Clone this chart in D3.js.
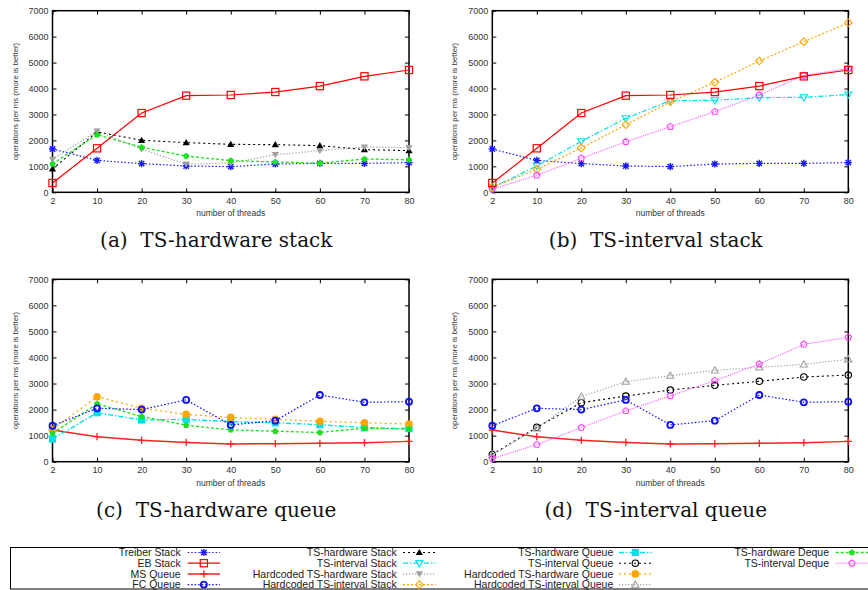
<!DOCTYPE html>
<html><head><meta charset="utf-8">
<script src="https://cdn.jsdelivr.net/npm/d3@7"></script>
<style>
html,body{margin:0;padding:0;background:#fff;}
svg{display:block;}
text{font-family:"Liberation Sans",Arial,sans-serif;}
text.caption{font-family:"DejaVu Serif","Liberation Serif",serif;}
</style></head>
<body><svg id="chart" width="868" height="590"></svg>
<script>
// ---------------- data ----------------
const threads = ["2","10","20","30","40","50","60","70","80"];
const yTickValues = [0,1000,2000,3000,4000,5000,6000,7000];
const yLabel = "operations per ms (more is better)";
const xLabel = "number of threads";

const treiberStack       = [1670,1230,1105,1015,990,1090,1115,1115,1145];
const ebStack            = [360,1695,3055,3725,3750,3865,4095,4470,4715];
const tsHardwareStack    = [900,2330,2005,1915,1850,1835,1800,1645,1605];
const hcTsHardwareStack  = [1270,2360,1660,1090,1130,1450,1605,1745,1720];
const tsHardwareDeque    = [1090,2220,1735,1400,1220,1170,1120,1285,1250];
const tsIntervalStack    = [180,1015,1965,2850,3530,3545,3650,3660,3765];
const hcTsIntervalStack  = [200,885,1710,2605,3480,4240,5060,5805,6535];
const tsIntervalDeque    = [120,655,1310,1950,2530,3110,3750,4505,4775];
const msQueue            = [1215,960,820,740,680,690,705,730,780];
const fcQueue            = [1380,2050,2000,2370,1410,1575,2560,2280,2305];
const hcTsHardwareQueue  = [1240,2495,2050,1815,1700,1625,1550,1495,1445];
const tsHardwareQueue    = [870,1880,1600,1625,1535,1495,1420,1305,1270];
const tsIntervalQueue    = [280,1320,2265,2520,2750,2930,3085,3250,3325];
const hcTsIntervalQueue  = [255,1280,2495,3070,3300,3505,3620,3735,3930];

const seriesNames = ["Treiber Stack","EB Stack","MS Queue","FC Queue",
  "TS-hardware Stack","TS-interval Stack","Hardcoded TS-hardware Stack","Hardcoded TS-interval Stack",
  "TS-hardware Queue","TS-interval Queue","Hardcoded TS-hardware Queue","Hardcoded TS-interval Queue",
  "TS-hardware Deque","TS-interval Deque"];
const seriesValues = [treiberStack, ebStack, msQueue, fcQueue,
  tsHardwareStack, tsIntervalStack, hcTsHardwareStack, hcTsIntervalStack,
  tsHardwareQueue, tsIntervalQueue, hcTsHardwareQueue, hcTsIntervalQueue,
  tsHardwareDeque, tsIntervalDeque];

const panelCaptions = ["(a)  TS-hardware stack","(b)  TS-interval stack","(c)  TS-hardware queue","(d)  TS-interval queue"];
const panelSeries = [
  ["Treiber Stack","TS-hardware Stack","Hardcoded TS-hardware Stack","TS-hardware Deque","EB Stack"],
  ["Treiber Stack","TS-interval Stack","Hardcoded TS-interval Stack","TS-interval Deque","EB Stack"],
  ["MS Queue","TS-hardware Queue","Hardcoded TS-hardware Queue","TS-hardware Deque","FC Queue"],
  ["MS Queue","TS-interval Queue","Hardcoded TS-interval Queue","FC Queue","TS-interval Deque"]
];

// ---------------- styles ----------------
const style = {
  "Treiber Stack":               {color:"#1a1aff", dash:"1.5,2",   marker:"asterisk", w:1.2},
  "EB Stack":                    {color:"#ff0000", dash:null,      marker:"square",   w:1.2},
  "MS Queue":                    {color:"#ff2020", dash:null,      marker:"plus",     w:1.5},
  "FC Queue":                    {color:"#1010ff", dash:"1.5,2",   marker:"circleThick", w:1.2},
  "TS-hardware Stack":           {color:"#000000", dash:"2,3",     marker:"triUpFill", w:1.1},
  "TS-interval Stack":           {color:"#00e0e8", dash:"5,2,1.5,2", marker:"triDownOpen", w:1.2},
  "Hardcoded TS-hardware Stack": {color:"#a0a0a0", dash:"1.2,1.8", marker:"triDownFill", w:1.2},
  "Hardcoded TS-interval Stack": {color:"#ffa500", dash:"2,2",     marker:"diamondOpen", w:1.2},
  "TS-hardware Queue":           {color:"#00e0e8", dash:"5,2,1.5,2", marker:"squareFill", w:1.4},
  "TS-interval Queue":           {color:"#000000", dash:"2,3",     marker:"circleOpen", w:1.1},
  "Hardcoded TS-hardware Queue": {color:"#ffa500", dash:"2,3",     marker:"circleFill", w:1.2},
  "Hardcoded TS-interval Queue": {color:"#a0a0a0", dash:"1.2,1.8", marker:"triUpOpen", w:1.2},
  "TS-hardware Deque":           {color:"#1ee01e", dash:"3,2",     marker:"pentFill", w:1.3},
  "TS-interval Deque":           {color:"#ff40ff", dash:"1,1",     marker:"pentOpen", w:1.0}
};

const valueOf = name => seriesValues[seriesNames.indexOf(name)];

// ---------------- markers ----------------
function drawMarker(g, type, cx, cy, color){
  const s = 3.6;
  const m = g.append("g").attr("transform",`translate(${cx},${cy})`);
  const poly = pts => "M"+pts.map(p=>p.join(",")).join("L")+"Z";
  const pent = r => d3.range(5).map(i=>{const a=-Math.PI/2+i*2*Math.PI/5;return [r*Math.cos(a), r*Math.sin(a)];});
  switch(type){
    case "asterisk":
      m.append("path").attr("d",`M${-s},0H${s}M0,${-s}V${s}M${-s*0.75},${-s*0.75}L${s*0.75},${s*0.75}M${-s*0.75},${s*0.75}L${s*0.75},${-s*0.75}`)
        .attr("stroke",color).attr("stroke-width",1.4).attr("fill","none"); break;
    case "plus":
      m.append("path").attr("d",`M${-s},0H${s}M0,${-s}V${s}`).attr("stroke",color).attr("stroke-width",1.3).attr("fill","none"); break;
    case "square":
      m.append("rect").attr("x",-s).attr("y",-s).attr("width",2*s).attr("height",2*s).attr("fill","none").attr("stroke",color).attr("stroke-width",1.2); break;
    case "squareFill":
      m.append("rect").attr("x",-s).attr("y",-s).attr("width",2*s).attr("height",2*s).attr("fill",color); break;
    case "circleThick":
      m.append("circle").attr("r",3).attr("fill","none").attr("stroke",color).attr("stroke-width",1.8); break;
    case "circleOpen":
      m.append("circle").attr("r",3.2).attr("fill","none").attr("stroke",color).attr("stroke-width",1.1); break;
    case "circleFill":
      m.append("circle").attr("r",3.8).attr("fill",color); break;
    case "triUpFill":
      m.append("path").attr("d",poly([[0,-3.6],[3.6,2.6],[-3.6,2.6]])).attr("fill",color); break;
    case "triUpOpen":
      m.append("path").attr("d",poly([[0,-3.6],[3.6,2.6],[-3.6,2.6]])).attr("fill","none").attr("stroke",color).attr("stroke-width",1.1); break;
    case "triDownFill":
      m.append("path").attr("d",poly([[0,3.6],[3.6,-2.6],[-3.6,-2.6]])).attr("fill",color); break;
    case "triDownOpen":
      m.append("path").attr("d",poly([[0,3.6],[3.6,-2.6],[-3.6,-2.6]])).attr("fill","none").attr("stroke",color).attr("stroke-width",1.1); break;
    case "diamondOpen":
      m.append("path").attr("d",poly([[0,-3.8],[3.8,0],[0,3.8],[-3.8,0]])).attr("fill","none").attr("stroke",color).attr("stroke-width",1.1); break;
    case "pentFill":
      m.append("path").attr("d",poly(pent(3.3))).attr("fill",color); break;
    case "pentOpen":
      m.append("path").attr("d",poly(pent(3.3))).attr("fill","none").attr("stroke",color).attr("stroke-width",1.1); break;
  }
}

// ---------------- panels ----------------
const svg = d3.select("#chart");
const panels = [
  {x0:52.5, x1:409, y0:10.7, y1:192.3, ylx:15, capY:247},
  {x0:492.3, x1:848.3, y0:10.7, y1:192.3, ylx:454.5, capY:247},
  {x0:52.5, x1:409, y0:279.3, y1:461.7, ylx:15, capY:517},
  {x0:492.3, x1:848.3, y0:279.3, y1:461.7, ylx:454.5, capY:517}
];

panels.forEach((p, pi) => {
  const x = d3.scalePoint().domain(threads).range([p.x0, p.x1]);
  const y = d3.scaleLinear().domain([0,7000]).range([p.y1, p.y0]);
  const g = svg.append("g");

  // axes
  const axL = g.append("g").attr("transform",`translate(${p.x0},0)`)
    .call(d3.axisLeft(y).tickValues(yTickValues).tickSize(-4).tickPadding(4).tickFormat(d3.format("d")));
  const axB = g.append("g").attr("transform",`translate(0,${p.y1})`)
    .call(d3.axisBottom(x).tickSize(-4).tickPadding(5));
  const axR = g.append("g").attr("transform",`translate(${p.x1},0)`)
    .call(d3.axisRight(y).tickValues(yTickValues).tickSize(-4).tickFormat(""));
  const axT = g.append("g").attr("transform",`translate(0,${p.y0})`)
    .call(d3.axisTop(x).tickSize(-4).tickFormat(""));
  [axL,axB,axR,axT].forEach(a=>{
    a.select(".domain").remove();
    a.selectAll(".tick line").attr("stroke","#000").attr("stroke-width",1);
    a.selectAll(".tick text").attr("font-size",9).attr("fill","#333");
  });
  g.append("rect").attr("x",p.x0).attr("y",p.y0).attr("width",p.x1-p.x0).attr("height",p.y1-p.y0)
    .attr("fill","none").attr("stroke","#000").attr("stroke-width",1.5);

  // labels
  g.append("text").attr("x",(p.x0+p.x1)/2).attr("y",p.y1+24).attr("text-anchor","middle")
    .attr("font-size",8.5).attr("fill","#333").text(xLabel);
  g.append("text").attr("transform",`translate(${p.ylx},${(p.y0+p.y1)/2}) rotate(-90)`)
    .attr("text-anchor","middle").attr("dy","0.35em").attr("font-size",7.8).attr("fill","#333").text(yLabel);
  g.append("text").attr("class","caption").attr("x",(p.x0+p.x1)/2-14.5).attr("y",p.capY).attr("text-anchor","middle")
    .attr("font-size",20).style("white-space","pre").attr("fill","#111").text(panelCaptions[pi]);

  // series
  panelSeries[pi].forEach(name => {
    const st = style[name];
    const vals = valueOf(name);
    const pts = threads.map((t,i)=>[x(t), y(vals[i])]);
    g.append("path").attr("d", d3.line()(pts)).attr("fill","none")
      .attr("stroke",st.color).attr("stroke-width",st.w)
      .attr("stroke-dasharray",st.dash);
    pts.forEach(pt => drawMarker(g, st.marker, pt[0], pt[1], st.color));
  });
});

// ---------------- legend ----------------
const lg = svg.append("g");
lg.append("rect").attr("x",10.5).attr("y",547.5).attr("width",870).attr("height",41.5)
  .attr("fill","none").attr("stroke","#000").attr("stroke-width",1);
const legendCols = [
  {textEnd:180.7, s0:187.7, s1:220},
  {textEnd:396.7, s0:403, s1:435.7},
  {textEnd:613.3, s0:619, s1:651.7},
  {textEnd:829, s0:835.7, s1:868}
];
const legendRows = [552.5, 563.2, 573.9, 584.6];
seriesNames.forEach((name, i) => {
  const col = i < 12 ? Math.floor(i/4) : 3;
  const row = i < 12 ? i % 4 : i - 12;
  const c = legendCols[col], yy = legendRows[row], st = style[name];
  lg.append("text").attr("x",c.textEnd).attr("y",yy).attr("dy","0.36em").attr("text-anchor","end")
    .attr("font-size",10.5).attr("fill","#222").text(name);
  lg.append("line").attr("x1",c.s0).attr("x2",c.s1).attr("y1",yy).attr("y2",yy)
    .attr("stroke",st.color).attr("stroke-width",st.w).attr("stroke-dasharray",st.dash);
  drawMarker(lg, st.marker, (c.s0+c.s1)/2, yy, st.color);
});
</script></body></html>
